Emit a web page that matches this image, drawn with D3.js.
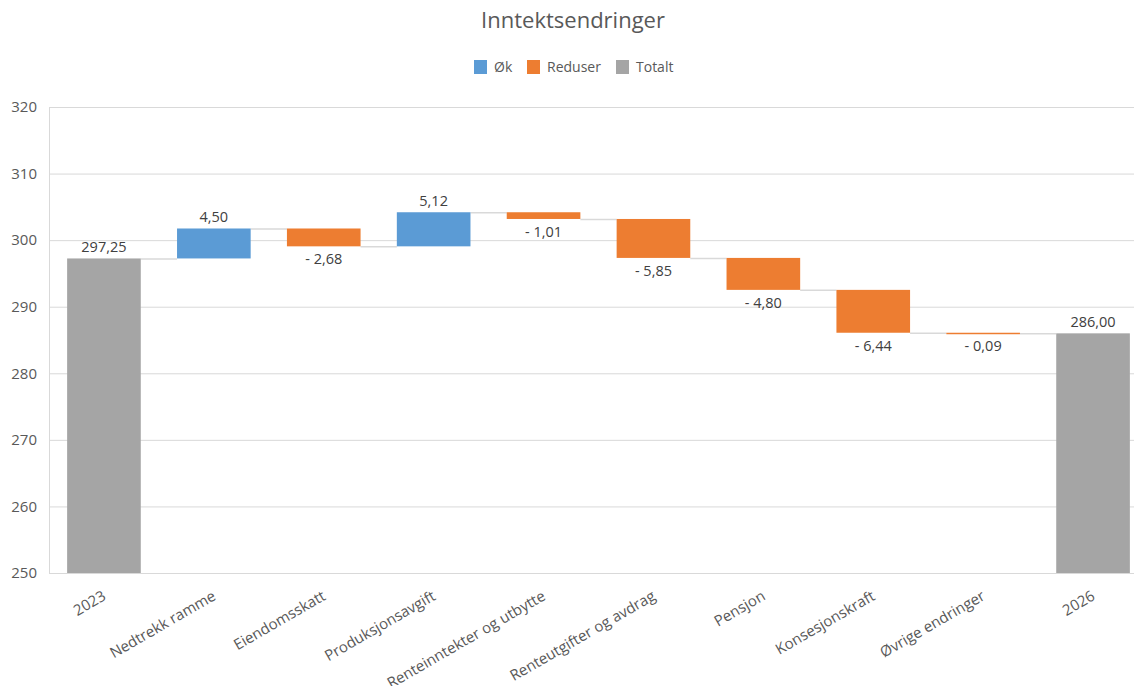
<!DOCTYPE html>
<html>
<head>
<meta charset="utf-8">
<script src="https://cdn.jsdelivr.net/npm/d3@7"></script>
<style>
  body { margin: 0; background: #fff; }
  svg { font-family: "Open Sans", "Noto Sans", sans-serif; }
</style>
</head>
<body>
<svg id="chart" width="1134" height="686"></svg>
<script>
// categories and changes, first and last are totals
var categories = ["2023", "Nedtrekk ramme", "Eiendomsskatt", "Produksjonsavgift",
  "Renteinntekter og utbytte", "Renteutgifter og avdrag", "Pensjon",
  "Konsesjonskraft", "Øvrige endringer", "2026"];
var values = [297.25, 4.50, -2.68, 5.12, -1.01, -5.85, -4.80, -6.44, -0.09, 286.00];
var kinds = ["total", "inc", "dec", "inc", "dec", "dec", "dec", "dec", "dec", "total"];
var yTicks = [250, 260, 270, 280, 290, 300, 310, 320];
var legendItems = ["Øk", "Reduser", "Totalt"];

var colors = { inc: "#5b9bd5", dec: "#ed7d31", total: "#a5a5a5" };
var legendColors = ["#5b9bd5", "#ed7d31", "#a5a5a5"];

var svg = d3.select("#chart");
var plotL = 49, plotR = 1148, plotT = 107, plotB = 573;

var x = d3.scaleBand().domain(categories).range([plotL, plotR]).paddingInner(0.33).paddingOuter(0.165);
var y = d3.scaleLinear().domain([250, 320]).range([plotB, plotT]);

// build running start/end
var run = 0;
var rows = categories.map(function(c, i) {
  var v = values[i], s, e;
  if (kinds[i] == "total") { s = 250; e = v; run = v; }
  else { s = run; e = run + v; run = e; }
  return { cat: c, v: v, kind: kinds[i], start: s, end: e };
});

// title
svg.append("text").attr("x", 573).attr("y", 28).attr("text-anchor", "middle")
  .attr("font-size", 22).attr("fill", "#595959").text("Inntektsendringer");

// legend
var lx = [474, 527, 616];
var lg = svg.append("g");
legendItems.forEach(function(t, i) {
  lg.append("rect").attr("x", lx[i]).attr("y", 60).attr("width", 13).attr("height", 14)
    .attr("fill", legendColors[i]);
  lg.append("text").attr("x", lx[i] + 20).attr("y", 72).attr("font-size", 14)
    .attr("fill", "#595959").text(t);
});

// gridlines
svg.append("g").selectAll("line").data(yTicks).enter().append("line")
  .attr("x1", plotL).attr("x2", 1134)
  .attr("y1", function(d) { return y(d) + 0.5; }).attr("y2", function(d) { return y(d) + 0.5; })
  .attr("stroke", "#d9d9d9").attr("stroke-width", 1);
svg.append("line").attr("x1", plotL + 0.5).attr("x2", plotL + 0.5).attr("y1", plotT).attr("y2", plotB)
  .attr("stroke", "#d9d9d9");

// y axis labels
var yAxis = d3.axisLeft(y).tickValues(yTicks).tickSize(0).tickPadding(12);
var ya = svg.append("g").attr("transform", "translate(" + plotL + ",0)").call(yAxis);
ya.select(".domain").remove();
ya.selectAll("text").attr("font-size", 15).attr("fill", "#595959")
  .attr("font-family", "'Open Sans', sans-serif");

// connector lines
var conn = rows.slice(0, rows.length - 1);
svg.append("g").selectAll("line").data(conn).enter().append("line")
  .attr("x1", function(d) { return x(d.cat) + x.bandwidth(); })
  .attr("x2", function(d, i) { return x(categories[i + 1]); })
  .attr("y1", function(d) { return y(d.end) + 0.5; })
  .attr("y2", function(d) { return y(d.end) + 0.5; })
  .attr("stroke", "#d9d9d9").attr("stroke-width", 1.5);

// bars
svg.append("g").selectAll("rect").data(rows).enter().append("rect")
  .attr("x", function(d) { return x(d.cat); })
  .attr("width", x.bandwidth())
  .attr("y", function(d) { return y(Math.max(d.start, d.end)); })
  .attr("height", function(d) { return Math.max(1.5, Math.abs(y(d.start) - y(d.end))); })
  .attr("fill", function(d) { return colors[d.kind]; });

// data labels
function fmt(d) {
  var s = Math.abs(d.v).toFixed(2).replace(".", ",");
  return d.v < 0 ? "- " + s : s;
}
svg.append("g").selectAll("text").data(rows).enter().append("text")
  .attr("x", function(d) { return x(d.cat) + x.bandwidth() / 2; })
  .attr("y", function(d) {
    if (d.kind == "dec") return y(d.end) + 18;
    return y(Math.max(d.start, d.end)) - 6;
  })
  .attr("text-anchor", "middle").attr("font-size", 14.5).attr("fill", "#404040")
  .text(fmt);

// x labels, rotated
svg.append("g").selectAll("text").data(categories).enter().append("text")
  .attr("transform", function(d) {
    return "translate(" + (x(d) + x.bandwidth() / 2 + 3) + "," + 599 + ") rotate(-30)";
  })
  .attr("text-anchor", "end").attr("font-size", 15).attr("fill", "#595959")
  .text(function(d) { return d; });
</script>
</body>
</html>
